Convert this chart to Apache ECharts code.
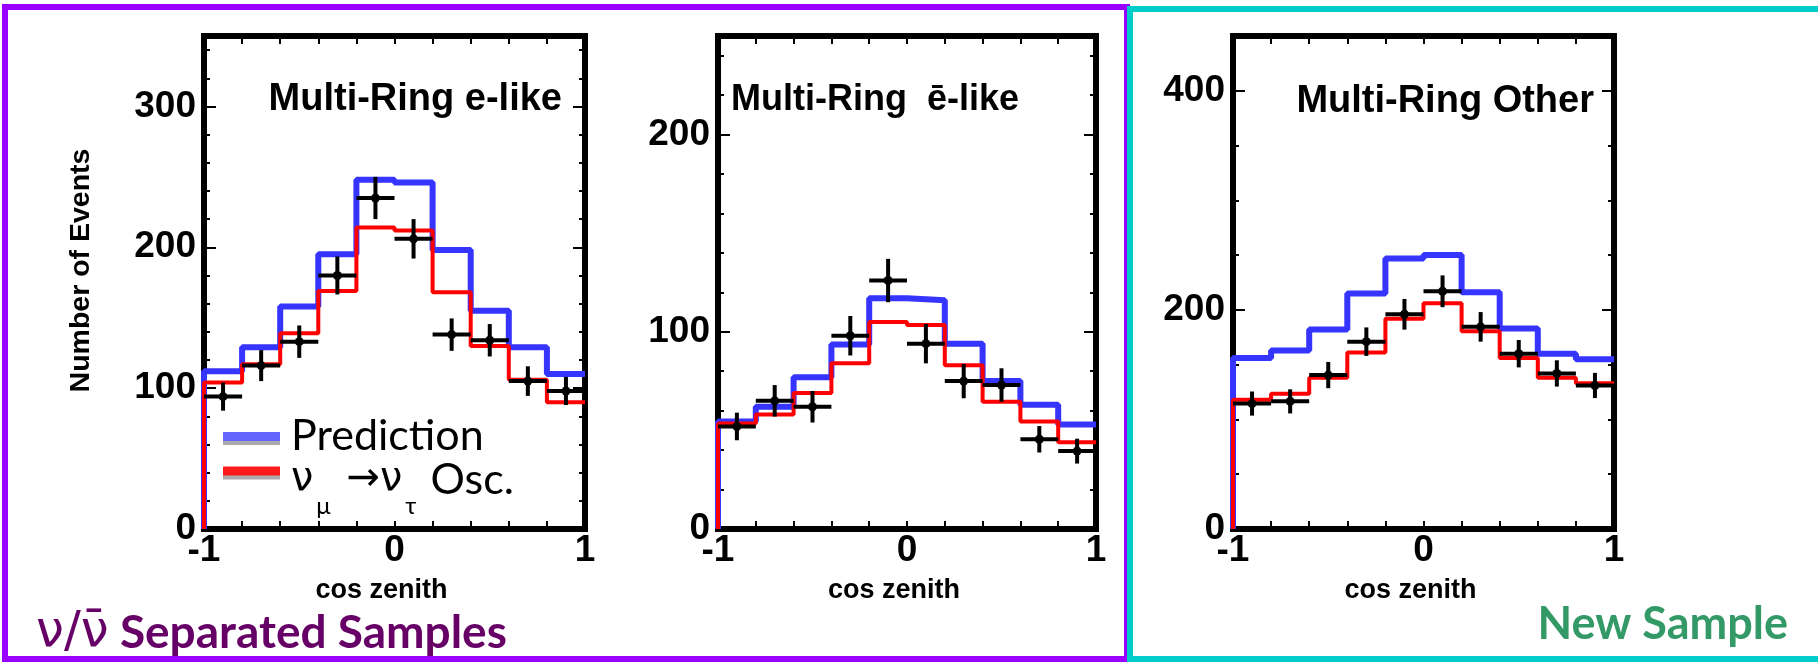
<!DOCTYPE html>
<html>
<head>
<meta charset="utf-8">
<script src="https://cdn.jsdelivr.net/npm/echarts@6/dist/echarts.min.js"></script>
<style>
  html, body { margin: 0; padding: 0; background: #fff; }
  #chart { width: 1818px; height: 664px; }
</style>
</head>
<body>
<div id="chart"></div>
<script>
// cos zenith binning (10 bins)
const binEdges = [-1, -0.8, -0.6, -0.4, -0.2, 0, 0.2, 0.4, 0.6, 0.8, 1];
const binCenters = [-0.9, -0.7, -0.5, -0.3, -0.1, 0.1, 0.3, 0.5, 0.7, 0.9];

const panelTitles = ['Multi-Ring e-like', 'Multi-Ring  ē-like', 'Multi-Ring Other'];
const yMax = [350, 250, 450];
const yMinorStep = [20, 20, 50];
const yMajorStep = [100, 100, 200];

// Multi-Ring e-like
const eLikePred = [112, 129, 158, 195, 248, 246, 198, 155, 129, 110];
const eLikeOsc  = [104, 117, 139, 169, 214, 212, 168, 130, 106, 90];
const eLikeObs  = [94, 116, 133, 180, 235, 206, 138, 134, 105, 98];
const eLikeErr  = [10, 11, 11.5, 13.5, 15, 14, 11.5, 11.5, 10.5, 10];

// Multi-Ring e-bar-like
const eBarPred = [54.5, 62, 77, 93.5, 117, 116, 94, 75, 63, 53];
const eBarOsc  = [53.5, 58, 69, 84, 105, 103.5, 83, 64.5, 54.5, 44];
const eBarObs  = [52, 65, 62, 98, 126, 94, 75, 73, 45.5, 39.5];
const eBarErr  = [7, 8, 8, 10, 11, 10, 8.7, 8.5, 6.7, 6.3];

// Multi-Ring Other
const otherPred = [156, 163, 182, 215, 247, 250, 216, 183, 160, 155];
const otherOsc  = [118, 123.5, 138, 161, 192, 206, 180.5, 156, 138, 133];
const otherObs  = [114.5, 116.5, 140.5, 171, 196, 217, 184.5, 160, 142, 131];
const otherErr  = [11, 11, 12, 13, 14, 14.5, 13.5, 12.5, 12, 11.5];

const PRED = 'Prediction';
const OSC = 'νμ→ντ Osc.';

const panels = [
  { pred: eLikePred, osc: eLikeOsc, obs: eLikeObs, err: eLikeErr },
  { pred: eBarPred, osc: eBarOsc, obs: eBarObs, err: eBarErr },
  { pred: otherPred, osc: otherOsc, obs: otherObs, err: otherErr }
];

const helv = '"Liberation Sans", Arial, Helvetica, sans-serif';
const lato = 'Lato, "DejaVu Sans", sans-serif';
const greek = '"DejaVu Sans", sans-serif';
const halfBin = (binEdges[1] - binEdges[0]) / 2;

function stepData(vals) {
  const d = [[binEdges[0], 0]];
  vals.forEach((v, k) => d.push([binEdges[k], v]));
  d.push([binEdges[binEdges.length - 1], vals[vals.length - 1]]);
  return d;
}

const gridLeft = [204, 718, 1233];
const gridWidth = [381, 378, 381];

const grids = [], xAxes = [], yAxes = [], series = [];

panels.forEach((p, i) => {
  grids.push({
    left: gridLeft[i], top: 36, width: gridWidth[i], height: 493,
    show: true, borderColor: '#000', borderWidth: 6, backgroundColor: 'transparent',
    outerBoundsMode: 'none', containLabel: false
  });

  const xBase = {
    type: 'value', gridIndex: i, min: -1, max: 1, interval: 0.2,
    axisLine: { show: false, onZero: false }, splitLine: { show: false },
    axisTick: { inside: true, length: 8, lineStyle: { color: '#000', width: 2 } }
  };
  xAxes.push(Object.assign({}, xBase, {
    position: 'bottom',
    axisLabel: {
      margin: 3, fontSize: 37, fontWeight: 'bold', fontFamily: helv, color: '#000',
      hideOverlap: false,
      formatter: v => (Math.abs(v) < 1e-9 || Math.abs(Math.abs(v) - 1) < 1e-9) ? String(Math.round(v)) : ''
    },
    name: 'cos zenith', nameLocation: 'middle', nameGap: 48, nameMoveOverlap: false,
    nameTextStyle: { fontSize: 27, fontWeight: 'bold', fontFamily: helv, color: '#000', padding: [0, 26, 0, 0] }
  }));
  xAxes.push(Object.assign({}, xBase, { position: 'top', axisLabel: { show: false } }));

  ['left', 'right'].forEach(side => {
    yAxes.push({
      type: 'value', gridIndex: i, min: 0, max: yMax[i], interval: yMinorStep[i], position: side,
      axisLine: { show: false, onZero: false }, splitLine: { show: false },
      axisTick: { inside: true, length: 6, lineStyle: { color: '#000', width: 2 } },
      axisLabel: side === 'left' ? {
        margin: 8, fontSize: 37, fontWeight: 'bold', fontFamily: helv, color: '#000', hideOverlap: false,
        formatter: v => (v % yMajorStep[i] === 0 ? String(v) : '')
      } : { show: false },
      name: (side === 'left' && i === 0) ? 'Number of Events' : '',
      nameLocation: 'middle', nameRotate: 90, nameGap: 108, nameMoveOverlap: false,
      nameTextStyle: { fontSize: 28.5, fontWeight: 'bold', fontFamily: helv, color: '#000', padding: [0, 0, 0, 24] }
    });
    yAxes.push({
      type: 'value', gridIndex: i, min: 0, max: yMax[i], interval: yMajorStep[i], position: side,
      axisLine: { show: false, onZero: false }, splitLine: { show: false },
      axisTick: { inside: true, length: 12, lineStyle: { color: '#000', width: 2 } },
      axisLabel: { show: false }
    });
  });

  const xi = 2 * i, yi = 4 * i;
  series.push({
    name: PRED, type: 'line', step: 'end', xAxisIndex: xi, yAxisIndex: yi,
    data: stepData(p.pred), symbol: 'none', clip: false, z: 3,
    lineStyle: { color: '#3535ff', width: 6 }, itemStyle: { color: '#3535ff' }
  });
  series.push({
    name: OSC, type: 'line', step: 'end', xAxisIndex: xi, yAxisIndex: yi,
    data: stepData(p.osc), symbol: 'none', clip: false, z: 4,
    lineStyle: { color: '#ff0000', width: 4 }, itemStyle: { color: '#ff0000' }
  });
  series.push({
    name: 'data', type: 'custom', xAxisIndex: xi, yAxisIndex: yi, z: 5,
    data: binCenters.map((x, k) => [x, p.obs[k], p.err[k]]),
    encode: { x: 0, y: 1 },
    renderItem: function (params, api) {
      const x = api.value(0), y = api.value(1), e = api.value(2);
      const l = api.coord([x - halfBin, y]);
      const r = api.coord([x + halfBin, y]);
      const t = api.coord([x, y + e]);
      const b = api.coord([x, y - e]);
      const c = api.coord([x, y]);
      const st = { stroke: '#000', lineWidth: 4 };
      return {
        type: 'group',
        children: [
          { type: 'line', shape: { x1: l[0], y1: l[1], x2: r[0], y2: r[1] }, style: st },
          { type: 'line', shape: { x1: t[0], y1: t[1], x2: b[0], y2: b[1] }, style: st },
          { type: 'circle', shape: { cx: c[0], cy: c[1], r: 4.5 }, style: { fill: '#000' } }
        ]
      };
    }
  });
});

const titles = [
  { text: panelTitles[0], right: 1256, top: 81, fs: 38 },
  { text: panelTitles[1], left: 731, top: 82, fs: 36 },
  { text: panelTitles[2], right: 224, top: 83, fs: 38 }
].map(t => ({
  text: t.text, left: t.left, right: t.right, top: t.top, padding: 0,
  textStyle: { fontSize: t.fs, fontWeight: 'bold', fontFamily: helv, color: '#000' }
}));

const option = {
  animation: false,
  backgroundColor: '#fff',
  title: titles,
  grid: grids,
  xAxis: xAxes,
  yAxis: yAxes,
  legend: [
    {
      data: [{ name: PRED, itemStyle: { color: '#6464ff', shadowColor: '#aaa', shadowOffsetY: 4, shadowBlur: 0 } }],
      left: 223, top: 415, orient: 'vertical', icon: 'rect', itemWidth: 57, itemHeight: 9,
      selectedMode: false, padding: 0,
      textStyle: { fontFamily: lato, fontSize: 43, lineHeight: 42, color: '#000', padding: [0, 0, 0, 6] }
    },
    {
      data: [{ name: OSC, itemStyle: { color: '#ff1a1a', shadowColor: '#aaa', shadowOffsetY: 4, shadowBlur: 0 } }],
      left: 223, top: 424, orient: 'vertical', icon: 'rect', itemWidth: 57, itemHeight: 9,
      selectedMode: false, padding: 0,
      formatter: () => '{g0|ν}{s|μ}{g| →ν}{s|τ}{a| Osc.}',
      textStyle: {
        color: '#000',
        rich: {
          g0: { fontFamily: greek, fontSize: 40, lineHeight: 40, padding: [18, 0, 0, 6], color: '#000' },
          g: { fontFamily: greek, fontSize: 40, lineHeight: 40, padding: [18, 0, 0, 0], color: '#000' },
          a: { fontFamily: lato, fontSize: 43, lineHeight: 42, padding: [18, 0, 0, 0], color: '#000' },
          s: { fontFamily: lato, fontSize: 24, lineHeight: 24, padding: [70, 3, 0, 3], color: '#000' }
        }
      }
    }
  ],
  graphic: [
    { type: 'rect', z: 10, shape: { x: 5, y: 7, width: 1122, height: 652 },
      style: { fill: 'none', stroke: '#9900ff', lineWidth: 6 } },
    { type: 'rect', z: 11, shape: { x: 1130, y: 9, width: 1682, height: 650 },
      style: { fill: 'none', stroke: '#00cccc', lineWidth: 6 } },
    { type: 'text', z: 12, left: 36, top: 608,
      style: {
        text: '{g|ν/ν̄}{t| Separated Samples}',
        rich: {
          g: { font: '50px "DejaVu Sans", sans-serif', fill: '#660066' },
          t: { font: 'bold 46px Lato, "DejaVu Sans", sans-serif', fill: '#660066' }
        }
      } },
    { type: 'text', z: 12, right: 30, top: 602,
      style: { text: 'New Sample', font: 'bold 45px Lato, "DejaVu Sans", sans-serif', fill: '#339966' } }
  ],
  series: series
};

const myChart = echarts.init(document.getElementById('chart'));
myChart.setOption(option);
window.addEventListener('resize', () => myChart.resize());
</script>
</body>
</html>
